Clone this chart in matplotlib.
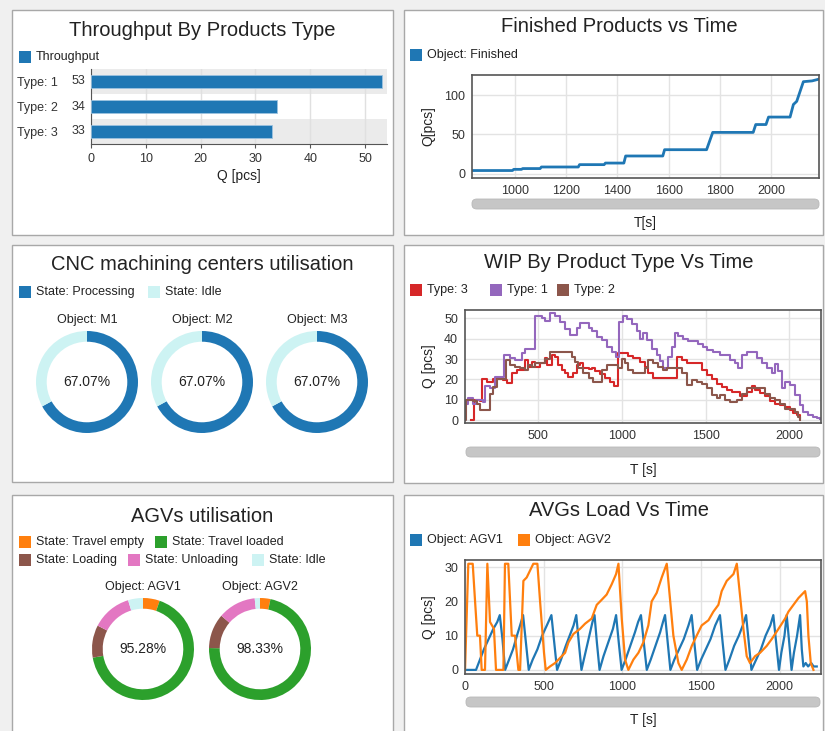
import matplotlib
matplotlib.use('Agg')
import matplotlib.pyplot as plt
from matplotlib.patches import Rectangle, FancyBboxPatch

plt.rcParams['font.family'] = ['Liberation Sans', 'DejaVu Sans']

W, H = 825, 731
BLUE = '#1f77b4'
ORANGE = '#ff7f0e'
GREEN = '#2ca02c'
RED = '#d62728'
PURPLE = '#9467bd'
BROWN = '#8c564b'
PINK = '#e377c2'
IDLE = '#cdf3f3'
TXT = '#222222'
TICK = '#333333'

# ---- data ----
throughput_types = ['Type: 1', 'Type: 2', 'Type: 3']
throughput_q = [53, 34, 33]

finished_t = [832, 990, 995, 1025, 1030, 1098, 1103, 1247, 1252, 1348, 1353, 1425, 1432,
              1577, 1584, 1748, 1772, 1930, 1940, 1980, 1990, 2074, 2087, 2100, 2126, 2160, 2184]
finished_q = [4, 4, 5.5, 5.5, 6.5, 6.5, 8.5, 8.5, 11.5, 11.5, 13.5, 13.5, 22.5,
              22.5, 30.5, 30.5, 52.5, 52.5, 62.5, 62.5, 72, 72, 88, 92, 117, 118, 120]

cnc_machines = ['Object: M1', 'Object: M2', 'Object: M3']
cnc_processing = [67.07, 67.07, 67.07]

wip3_t = [100, 116, 151, 161, 191, 231, 291, 311, 341, 371, 400, 420, 440, 460, 480, 510, 540, 554,
          580, 600, 620, 640, 660, 680, 710, 730, 750, 770, 800, 820, 840, 870, 900, 930, 952, 978,
          1008, 1038, 1068, 1108, 1138, 1157, 1187, 1227, 1267, 1297, 1327, 1357, 1386, 1426, 1456,
          1476, 1506, 1536, 1566, 1596, 1625, 1655, 1685, 1705, 1745, 1775, 1795, 1825, 1855, 1884,
          1914, 1944, 1974, 2004, 2024, 2044, 2064]
wip3_q = [0, 10, 9.5, 20, 19, 20, 19.5, 18.5, 23, 24.5, 24.5, 29.5, 26, 28.5, 26, 28, 30.5, 27,
          32, 31, 27, 24.5, 23, 21, 23, 27, 28, 25.5, 25, 25.5, 24, 22.5, 20.5, 19, 17, 33,
          33, 31.5, 30.5, 28.5, 26, 23, 20.5, 20.5, 20.5, 20.5, 31, 29.5, 28, 28, 28,
          24.7, 22, 20, 18, 16.5, 15, 14, 14, 12, 14, 17, 15, 13.5, 12, 9.5,
          8, 7.5, 6.5, 5, 3.5, 2.5, 1]

wip1_t = [62, 80, 110, 130, 170, 181, 211, 241, 291, 297, 331, 361, 381, 400, 420, 460, 480, 520,
          540, 570, 600, 630, 660, 690, 720, 730, 750, 790, 800, 820, 850, 880, 910, 940, 965, 985,
          1008, 1028, 1058, 1088, 1108, 1128, 1148, 1177, 1207, 1227, 1245, 1262, 1277, 1297, 1317,
          1337, 1367, 1396, 1426, 1456, 1486, 1506, 1546, 1586, 1625, 1645, 1675, 1695, 1715, 1745,
          1785, 1805, 1835, 1865, 1894, 1914, 1934, 1954, 1974, 2004, 2034, 2064, 2084, 2114, 2143,
          2163, 2183]
wip1_q = [8, 11, 8, 10, 9, 17, 16, 21, 21, 32, 30.5, 29.5, 29.5, 33, 35, 35, 51, 50,
          48.5, 52.5, 51, 48, 44.5, 42, 42, 45, 47.5, 47.5, 45, 43.5, 41, 39.5, 36, 33.5, 31, 48,
          51, 49.5, 47, 43.5, 40, 42.5, 39.5, 35, 32, 29, 25.5, 25.5, 31, 36, 42.5,
          41.5, 40, 39, 39, 37.5, 36, 34.5, 33.5, 32, 32, 29.5, 28, 25.7, 32, 33.5,
          33.5, 30.5, 28, 25.7, 23, 27.5, 24, 16, 19, 17.5, 12.5, 7.5, 4, 2.5, 1.5,
          1, 0.5]

wip2_t = [62, 70, 112, 131, 151, 201, 211, 231, 251, 291, 307, 331, 361, 390, 420, 440, 460, 480,
          510, 540, 570, 680, 700, 720, 740, 770, 800, 829, 859, 879, 908, 948, 978, 998, 1018, 1038,
          1068, 1108, 1137, 1157, 1187, 1217, 1247, 1267, 1327, 1357, 1386, 1416, 1446, 1476, 1506,
          1536, 1566, 1586, 1616, 1645, 1685, 1715, 1745, 1825, 1855, 1884, 1914, 1944, 1974, 2004,
          2034, 2054, 2064]
wip2_q = [0, 10, 9.5, 8, 5, 5, 13, 16.5, 20, 20, 29.5, 27, 26, 25.4, 24.6, 27, 26, 28,
          28, 30, 33.6, 33.6, 31, 28.7, 25.4, 23, 20.5, 19, 19, 24.6, 27, 27, 25.4, 30, 28, 24.6,
          23, 23, 25.4, 29.5, 28, 26, 24.6, 25.4, 25.4, 23, 17.2, 19.7, 19, 18, 15.6,
          12.3, 10.7, 12.3, 9.8, 9, 9.8, 13, 15.6, 15.6, 13, 10.7, 9.8, 8.2, 5.7, 5.7,
          4, 1.6, 0.3]

agv_names = ['Object: AGV1', 'Object: AGV2']
agv_utilisation = ['95.28%', '98.33%']
agv_states = ['State: Travel empty', 'State: Travel loaded', 'State: Loading', 'State: Unloading', 'State: Idle']
agv1_shares = [5.3, 66.98, 10.3, 12.7, 4.72]
agv2_shares = [3.3, 72.0, 11.0, 12.03, 1.67]

agv1_t = [0, 70, 95, 120, 150, 180, 205, 221, 238, 255,
          280, 305, 330, 350, 369, 387, 405,
          430, 460, 490, 520, 549, 567, 585,
          610, 640, 665, 690, 707, 723, 740,
          765, 790, 810, 823, 838, 855,
          880, 910, 940, 960, 977, 995,
          1020, 1050, 1080, 1100, 1118, 1136, 1155,
          1180, 1210, 1240, 1258, 1271, 1288, 1305,
          1330, 1360, 1390, 1420, 1440, 1457, 1475,
          1500, 1530, 1560, 1590, 1620, 1637, 1655,
          1680, 1710, 1740, 1765, 1786, 1803, 1820,
          1850, 1880, 1910, 1940, 1959, 1977, 1995,
          2010, 2030, 2044, 2060, 2075,
          2090, 2110, 2129, 2140, 2150, 2165, 2180, 2200, 2215, 2235]
agv1_q = [0, 0, 3, 6, 9, 12, 14, 16, 9, 0,
          3, 6, 10, 13, 16, 8, 0,
          3, 6, 10, 13, 16, 8, 0,
          3, 7, 10, 13, 16, 8, 0,
          5, 10, 14, 16, 8, 0,
          4, 8, 12, 16, 8, 0,
          3, 7, 11, 14, 16, 8, 0,
          3, 7, 11, 14, 16, 8, 0,
          3, 6, 9, 13, 16, 8, 0,
          3, 6, 9, 13, 16, 8, 0,
          3, 7, 10, 13, 16, 8, 0,
          3, 6, 10, 13, 16, 8, 0,
          5, 10, 16, 8, 0,
          5, 10, 16, 6, 1, 2, 1, 2, 1, 1]

agv2_t = [0, 21, 49, 64, 78, 95, 106, 127, 142, 159, 184, 197, 244, 254, 275, 297, 318, 339, 350,
          371, 392, 413, 434, 460, 477, 502, 513, 540, 572, 604, 636, 657, 689, 731, 763, 805, 837,
          869, 900, 932, 960, 975, 996, 1017, 1038, 1070, 1102, 1133, 1165, 1186, 1218, 1250, 1282,
          1324, 1356, 1377, 1409, 1441, 1472, 1504, 1547, 1578, 1610, 1631, 1663, 1706, 1727, 1769,
          1790, 1811, 1843, 1875, 1917, 1949, 1992, 2034, 2055, 2087, 2119, 2161, 2172, 2182, 2197,
          2214]
agv2_q = [0, 31, 31, 20, 10, 10, 0, 0, 31, 14, 12, 0, 0, 31, 31, 10, 10, 0, 0,
          26, 27, 29, 31, 31, 20, 5, 0, 1, 2, 3.5, 5, 8, 10.5, 12, 13.5, 15, 19,
          20.5, 22, 25, 28, 31, 15, 3, 0, 3, 5, 8, 13, 20, 22.5, 27, 31,
          10, 2, 0, 3, 7, 10, 13, 14.5, 17, 19, 23, 26, 28, 31, 12,
          4, 2, 4, 5, 7, 9, 12, 15, 17, 19, 21, 23, 20, 10, 2,
          0]


def px_axes(fig, left, top, right, bottom):
    return fig.add_axes([left / W, 1 - bottom / H, (right - left) / W, (bottom - top) / H])


def ftext(fig, x, y, s, **kw):
    kw.setdefault('va', 'center')
    kw.setdefault('color', TXT)
    return fig.text(x / W, 1 - y / H, s, **kw)


def panel(fig, left, top, right, bottom):
    fig.patches.append(Rectangle((left / W, 1 - bottom / H), (right - left) / W, (bottom - top) / H,
                                 transform=fig.transFigure, facecolor='white', edgecolor='#a8a8a8',
                                 lw=1.0, zorder=-5))


def legend_item(fig, x, y, color, label):
    fig.patches.append(Rectangle((x / W, 1 - (y + 6) / H), 12 / W, 12 / H, transform=fig.transFigure,
                                 facecolor=color, edgecolor='none', zorder=2))
    ftext(fig, x + 17, y, label, fontsize=9, ha='left')


def scrollbar(fig, left, right, y):
    fig.patches.append(FancyBboxPatch((left / W, 1 - (y + 5) / H), (right - left) / W, 10 / H,
                                      boxstyle='round,pad=0,rounding_size=0.006',
                                      transform=fig.transFigure, facecolor='#c6c6c6',
                                      edgecolor='#b8b8b8', lw=0.6, zorder=2))


def style_time_axes(ax):
    for s in ax.spines.values():
        s.set_color('#555555')
        s.set_linewidth(1.2)
    ax.grid(True, color='#e3e3e3', lw=1)
    ax.set_axisbelow(True)
    ax.tick_params(length=0, labelsize=9, labelcolor=TICK, pad=5)


def donut(fig, cx, cy, shares, colors, center_label, title):
    r = 51
    ax = px_axes(fig, cx - r, cy - r, cx + r, cy + r)
    ax.pie(shares, colors=colors, startangle=90, counterclock=False, radius=1,
           wedgeprops=dict(width=0.21, edgecolor='none'))
    ax.set_xlim(-1, 1)
    ax.set_ylim(-1, 1)
    ax.set_aspect('equal')
    ax.axis('off')
    ax.text(0, 0, center_label, ha='center', va='center', fontsize=10, color=TXT)
    ftext(fig, cx, cy - 62, title, fontsize=9, ha='center')


fig = plt.figure(figsize=(W / 100, H / 100), dpi=100, facecolor='#f0f0f0')

panel(fig, 12, 10, 393, 235)
panel(fig, 404, 10, 823, 235)
panel(fig, 12, 245, 393, 482)
panel(fig, 404, 245, 823, 483)
panel(fig, 12, 495, 393, 740)
panel(fig, 404, 495, 823, 740)

# ---- Throughput by product type ----
ftext(fig, 202, 31, 'Throughput By Products Type', fontsize=14.5, ha='center')
legend_item(fig, 19, 57, BLUE, 'Throughput')
ax = px_axes(fig, 91, 69, 387, 144)
ypos = list(range(len(throughput_types)))
for i in ypos:
    if i % 2 == 0:
        ax.axhspan(i - 0.5, i + 0.5, color='#ebebeb', zorder=0, lw=0)
ax.barh(ypos, throughput_q, height=0.52, color=BLUE, edgecolor='#9cc3e0', lw=0.6, zorder=3)
for i, v in zip(ypos, throughput_q):
    ax.annotate(str(v), (0, i), xytext=(-4, 0), textcoords='offset points', ha='right', va='center',
                fontsize=9, color=TICK)
ax.set_yticks(ypos)
ax.set_yticklabels(throughput_types)
ax.set_ylim(2.5, -0.5)
ax.set_xlim(0, 54)
ax.set_xticks([0, 10, 20, 30, 40, 50])
ax.tick_params(axis='y', length=0, pad=24, labelsize=9, labelcolor=TICK)
ax.tick_params(axis='x', length=3, color='#555555', labelsize=9, labelcolor=TICK)
ax.grid(True, axis='x', color='#e0e0e0', lw=1, zorder=1)
ax.set_axisbelow(True)
for s in ['top', 'right']:
    ax.spines[s].set_visible(False)
for s in ['left', 'bottom']:
    ax.spines[s].set_color('#555555')
ax.set_xlabel('Q [pcs]', fontsize=10, color=TXT, labelpad=3)

# ---- Finished products vs time ----
ftext(fig, 619, 27, 'Finished Products vs Time', fontsize=14.5, ha='center')
legend_item(fig, 410, 55, BLUE, 'Object: Finished')
ax = px_axes(fig, 472, 75, 819, 178)
ax.plot(finished_t, finished_q, color=BLUE, lw=2)
ax.set_xlim(832, 2187)
ax.set_ylim(-5.5, 125.5)
ax.set_xticks([1000, 1200, 1400, 1600, 1800, 2000])
ax.set_yticks([0, 50, 100])
style_time_axes(ax)
ax.set_ylabel('Q[pcs]', fontsize=10, color=TXT, labelpad=6)
scrollbar(fig, 472, 819, 204)
ftext(fig, 645, 223, 'T[s]', fontsize=10, ha='center')

# ---- CNC utilisation ----
ftext(fig, 202, 265, 'CNC machining centers utilisation', fontsize=14.5, ha='center')
legend_item(fig, 19, 292, BLUE, 'State: Processing')
legend_item(fig, 148, 292, IDLE, 'State: Idle')
for cx, name, p in zip([87, 202, 317], cnc_machines, cnc_processing):
    donut(fig, cx, 382, [p, 100 - p], [BLUE, IDLE], f'{p:.2f}%', name)

# ---- WIP by product type ----
ftext(fig, 619, 262, 'WIP By Product Type Vs Time', fontsize=14.5, ha='center')
legend_item(fig, 410, 290, RED, 'Type: 3')
legend_item(fig, 490, 290, PURPLE, 'Type: 1')
legend_item(fig, 557, 290, BROWN, 'Type: 2')
ax = px_axes(fig, 465, 310, 821, 423)
ax.plot(wip3_t, wip3_q, color=RED, lw=1.5, drawstyle='steps-post')
ax.plot(wip1_t, wip1_q, color=PURPLE, lw=1.5, drawstyle='steps-post')
ax.plot(wip2_t, wip2_q, color=BROWN, lw=1.5, drawstyle='steps-post')
ax.set_xlim(62, 2189)
ax.set_ylim(-1.3, 54)
ax.set_xticks([500, 1000, 1500, 2000])
ax.set_yticks([0, 10, 20, 30, 40, 50])
style_time_axes(ax)
ax.set_ylabel('Q [pcs]', fontsize=10, color=TXT, labelpad=6)
scrollbar(fig, 466, 820, 452)
ftext(fig, 643, 470, 'T [s]', fontsize=10, ha='center')

# ---- AGVs utilisation ----
ftext(fig, 202, 516, 'AGVs utilisation', fontsize=14.5, ha='center')
agv_colors = [ORANGE, GREEN, BROWN, PINK, IDLE]
legend_item(fig, 19, 542, agv_colors[0], agv_states[0])
legend_item(fig, 155, 542, agv_colors[1], agv_states[1])
legend_item(fig, 19, 560, agv_colors[2], agv_states[2])
legend_item(fig, 128, 560, agv_colors[3], agv_states[3])
legend_item(fig, 252, 560, agv_colors[4], agv_states[4])
for cx, name, shares, lab in zip([143, 260], agv_names, [agv1_shares, agv2_shares], agv_utilisation):
    donut(fig, cx, 649, shares, agv_colors, lab, name)

# ---- AGVs load vs time ----
ftext(fig, 619, 511, 'AVGs Load Vs Time', fontsize=14.5, ha='center')
legend_item(fig, 410, 540, BLUE, 'Object: AGV1')
legend_item(fig, 518, 540, ORANGE, 'Object: AGV2')
ax = px_axes(fig, 465, 560, 821, 674)
ax.plot(agv1_t, agv1_q, color=BLUE, lw=1.6)
ax.plot(agv2_t, agv2_q, color=ORANGE, lw=1.6)
ax.set_xlim(0, 2262)
ax.set_ylim(-1.2, 32.1)
ax.set_xticks([0, 500, 1000, 1500, 2000])
ax.set_yticks([0, 10, 20, 30])
style_time_axes(ax)
ax.set_ylabel('Q [pcs]', fontsize=10, color=TXT, labelpad=6)
scrollbar(fig, 466, 820, 702)
ftext(fig, 643, 720, 'T [s]', fontsize=10, ha='center')

fig.savefig('out.png', dpi=100, facecolor=fig.get_facecolor())
